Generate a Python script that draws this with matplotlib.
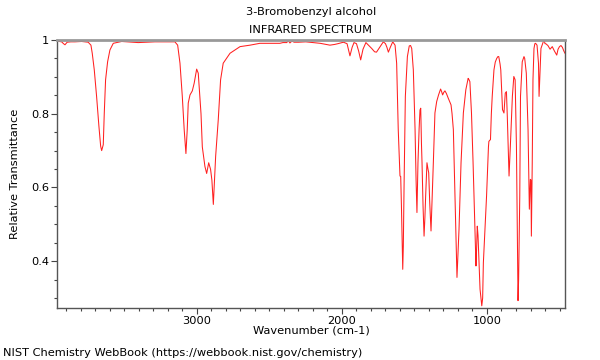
import matplotlib
matplotlib.use("Agg")
import matplotlib.pyplot as plt
from matplotlib.ticker import MultipleLocator, FixedLocator, FixedFormatter

title_name = "3-Bromobenzyl alcohol"
title_kind = "INFRARED SPECTRUM"
x_label = "Wavenumber (cm-1)"
y_label = "Relative Transmittance"
footer = "NIST Chemistry WebBook (https://webbook.nist.gov/chemistry)"

wavenumber = [
    3965, 3950, 3933, 3920, 3910, 3895, 3870, 3841, 3795, 3750, 3731, 3722, 3708, 3692, 3676,
    3664, 3657, 3646, 3639, 3630, 3616, 3600, 3577, 3519, 3405, 3290, 3152, 3133, 3117,
    3101, 3088, 3076, 3067, 3060, 3048, 3032, 3019, 3002, 2991, 2972, 2963, 2945, 2933,
    2919, 2906, 2897, 2887, 2879, 2871, 2853, 2837, 2819, 2772, 2703, 2634, 2566, 2428,
    2407, 2380, 2372, 2359, 2345, 2330, 2300, 2250, 2200, 2150, 2083, 2050, 2028, 1990,
    1965, 1945, 1930, 1917, 1900, 1885, 1871, 1855, 1835, 1815, 1795, 1775, 1762, 1740,
    1715, 1700, 1690, 1680, 1667, 1650, 1634, 1623, 1612, 1600, 1595, 1590, 1581, 1577,
    1572, 1563, 1549, 1536, 1527, 1519, 1508, 1496, 1489, 1483, 1476, 1468, 1462, 1457,
    1452, 1448, 1441, 1434, 1428, 1423, 1414, 1407, 1402, 1395, 1386, 1380, 1370, 1359,
    1347, 1334, 1320, 1313, 1306, 1298, 1290, 1280, 1267, 1248, 1241, 1232, 1221, 1214,
    1207, 1200, 1193, 1179, 1163, 1146, 1130, 1125, 1118, 1107, 1096, 1083, 1076, 1072,
    1067, 1062, 1055, 1048, 1036, 1030, 1025, 1003, 990, 987, 976, 970, 964, 952, 943,
    933, 925, 919, 910, 905, 893, 883, 874, 866, 860, 848, 839, 830, 825, 815, 806, 797,
    790, 786, 782, 774, 769, 757, 745, 740, 729, 717, 708, 701, 697, 694, 688, 683, 676,
    670, 665, 655, 645, 641, 632, 628, 612, 605, 600, 595, 580, 565, 550, 535, 519, 510,
    500, 490, 480, 470, 462,
]
transmittance = [
    0.998, 0.996, 0.995, 0.990, 0.987, 0.994, 0.995, 0.995, 0.996, 0.994, 0.986, 0.964, 0.919, 0.847, 0.766,
    0.712, 0.700, 0.716, 0.802, 0.892, 0.941, 0.973, 0.991, 0.996, 0.993, 0.995, 0.995, 0.986, 0.937,
    0.847, 0.757, 0.692, 0.757, 0.829, 0.851, 0.862, 0.883, 0.921, 0.910, 0.800, 0.710, 0.657, 0.638,
    0.667, 0.649, 0.620, 0.554, 0.620, 0.685, 0.784, 0.892, 0.937, 0.964, 0.982, 0.986, 0.991, 0.991,
    0.993, 0.993, 0.999, 0.992, 0.997, 0.994, 0.994, 0.995, 0.993, 0.991, 0.986, 0.988, 0.990, 0.994,
    0.990, 0.957, 0.980, 0.993, 0.990, 0.970, 0.946, 0.975, 0.993, 0.985, 0.977, 0.968, 0.967, 0.980,
    0.995, 0.990, 0.980, 0.967, 0.980, 0.995, 0.986, 0.937, 0.757, 0.631, 0.630, 0.550, 0.378, 0.440,
    0.600, 0.847, 0.955, 0.984, 0.985, 0.977, 0.919, 0.757, 0.620, 0.532, 0.667, 0.760, 0.810, 0.815,
    0.720, 0.667, 0.550, 0.468, 0.520, 0.577, 0.667, 0.650, 0.640, 0.560, 0.482, 0.550, 0.667, 0.802,
    0.833, 0.851, 0.867, 0.860, 0.851, 0.858, 0.862, 0.855, 0.842, 0.824, 0.800, 0.757, 0.577, 0.450,
    0.356, 0.420, 0.486, 0.667, 0.802, 0.865, 0.896, 0.893, 0.887, 0.802, 0.667, 0.486, 0.387, 0.430,
    0.495, 0.470, 0.400, 0.324, 0.279, 0.300, 0.396, 0.577, 0.710, 0.725, 0.730, 0.800, 0.847, 0.919, 0.940,
    0.950, 0.955, 0.955, 0.935, 0.919, 0.811, 0.802, 0.856, 0.860, 0.793, 0.631, 0.712, 0.800, 0.847, 0.901, 0.892, 0.712,
    0.450, 0.293, 0.350, 0.577, 0.847, 0.941, 0.955, 0.950, 0.910, 0.757, 0.541, 0.622, 0.620, 0.468, 0.667, 0.892, 0.977,
    0.990, 0.991, 0.986, 0.937, 0.847, 0.937, 0.977, 0.995, 0.998, 0.990, 0.990, 0.985, 0.975, 0.982, 0.970, 0.959, 0.975,
    0.982, 0.985, 0.980, 0.970, 0.964,
]

x_ticks = [3000, 2000, 1000]
x_tick_labels = ["3000", "2000", "1000"]
y_ticks = [0.4, 0.6, 0.8, 1.0]
y_tick_labels = ["0.4", "0.6", "0.8", "1"]

fs = 8.2
fig = plt.figure(figsize=(6, 3.6), dpi=100)
ax = fig.add_axes([0.095, 0.1444, 0.8467, 0.7445])
ax.plot(wavenumber, transmittance, color="#ff2020", lw=0.75)
ax.set_xlim(3965, 462)
ax.set_ylim(0.273, 1.0)

ax.xaxis.set_major_locator(FixedLocator(x_ticks))
ax.xaxis.set_major_formatter(FixedFormatter(x_tick_labels))
ax.xaxis.set_minor_locator(MultipleLocator(100))
ax.yaxis.set_major_locator(FixedLocator(y_ticks))
ax.yaxis.set_major_formatter(FixedFormatter(y_tick_labels))
ax.yaxis.set_minor_locator(MultipleLocator(0.05))

ax.tick_params(which="major", direction="out", length=4, width=0.8, color="#444444", labelsize=fs, pad=1.5)
ax.tick_params(which="minor", direction="out", length=2.5, width=0.8, color="#444444")
for s in ["left", "bottom", "right"]:
    ax.spines[s].set_color("#555555")
    ax.spines[s].set_linewidth(1.0)
ax.spines["top"].set_color("#999999")
ax.spines["top"].set_linewidth(2.0)

ax.set_xlabel(x_label, fontsize=fs, labelpad=0)
ax.set_ylabel(y_label, fontsize=fs, labelpad=8)
fig.text(0.518, 0.966, title_name, ha="center", va="center", fontsize=fs)
fig.text(0.518, 0.918, title_kind, ha="center", va="center", fontsize=fs)
fig.text(0.005, 0.02, footer, ha="left", va="center", fontsize=fs)

fig.savefig("out.png", dpi=100)
